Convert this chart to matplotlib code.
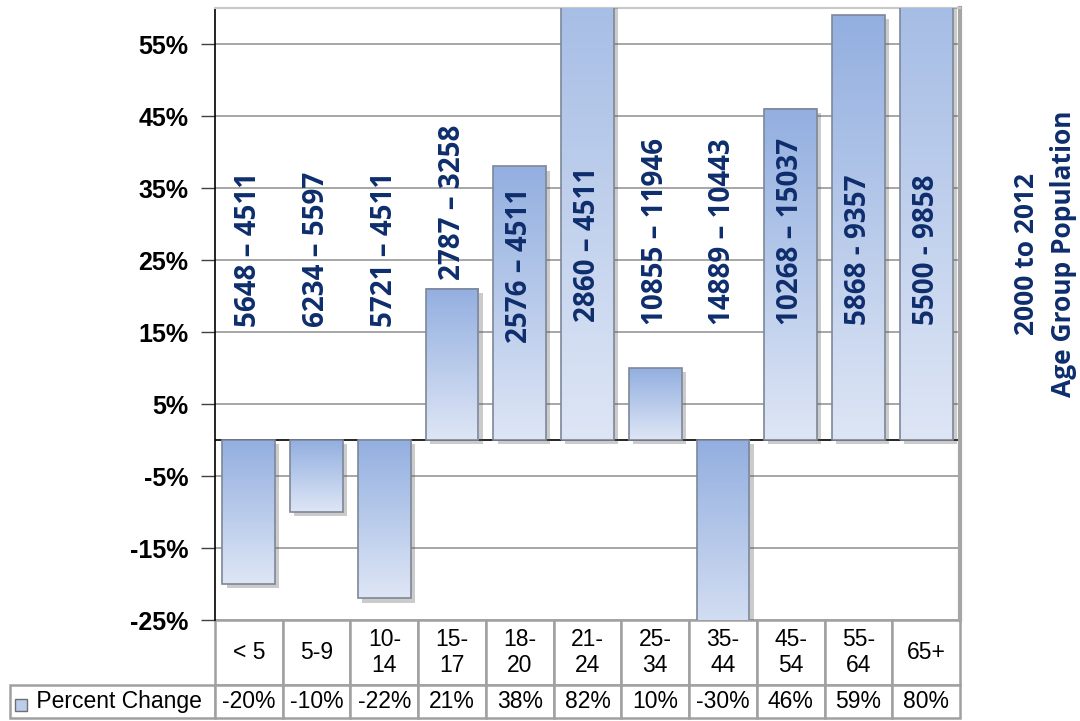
import matplotlib.pyplot as plt
import matplotlib.patheffects as pe
from matplotlib.colors import LinearSegmentedColormap
from matplotlib.patches import Rectangle
from matplotlib.table import Table
import numpy as np

# data
age_groups = ["< 5", "5-9", "10-\n14", "15-\n17", "18-\n20", "21-\n24",
              "25-\n34", "35-\n44", "45-\n54", "55-\n64", "65+"]
pct_change = [-20, -10, -22, 21, 38, 82, 10, -30, 46, 59, 80]
pop_ranges = ["5648 \u2013 4511", "6234 \u2013 5597", "5721 \u2013 4511",
              "2787 \u2013 3258", "2576 \u2013 4511", "2860 \u2013 4511",
              "10855 \u2013 11946", "14889 \u2013 10443", "10268 \u2013 15037",
              "5868 - 9357", "5500 - 9858"]
label_base = [15.7, 15.7, 15.7, 22.2, 13.5, 16.4, 16.0, 16.0, 16.0, 16.0, 16.0]
y_ticks = [-25, -15, -5, 5, 15, 25, 35, 45, 55]
series_name = "Percent Change"

navy = "#0E2D6C"
grid_gray = "#A6A6A6"
bar_cmap = LinearSegmentedColormap.from_list("bar", ["#93AFE0", "#DEE6F5"])

fig = plt.figure(figsize=(10.8, 7.21), dpi=100)
ax = fig.add_axes([215 / 1080, 101 / 721, 745 / 1080, 612 / 721])

x = np.arange(len(age_groups))

# white base bars carry the drop shadow
bars = ax.bar(x, pct_change, width=0.78, color="white", linewidth=0, zorder=3,
              path_effects=[pe.SimplePatchShadow(offset=(3, -3), shadow_rgbFace="#555555",
                                                 alpha=0.3), pe.Normal()])

# vertical gradient fill clipped to each bar
grad = np.linspace(0, 1, 256).reshape(-1, 1)
for bar in bars:
    x0 = bar.get_x()
    x1 = x0 + bar.get_width()
    y0 = min(bar.get_y(), bar.get_y() + bar.get_height())
    y1 = max(bar.get_y(), bar.get_y() + bar.get_height())
    im = ax.imshow(grad, extent=[x0, x1, y0, y1], origin="upper", aspect="auto",
                   cmap=bar_cmap, zorder=3.1)
    im.set_clip_path(bar)
    im.set_clip_box(ax.bbox)

# outlines on top
ax.bar(x, pct_change, width=0.78, facecolor="none", edgecolor="#7D8798",
       linewidth=1.2, zorder=3.2)

for xi, txt, yb in zip(x, pop_ranges, label_base):
    ax.text(xi, yb, txt, rotation=90, ha="center", va="bottom", fontsize=20,
            fontweight="bold", color=navy, family="Open Sans", zorder=5)

ax.axhline(0, color="black", lw=1.2, zorder=2.5)

ax.set_xlim(-0.5, len(age_groups) - 0.5)
ax.set_ylim(-25, 60)
ax.set_xticks([])
ax.set_yticks(y_ticks)
ax.set_yticklabels([f"{v}%" for v in y_ticks], fontsize=18, fontweight="bold",
                   family="Liberation Sans")
ax.tick_params(axis="y", length=10, width=1, color="#404040", pad=9)
ax.yaxis.grid(True, color=grid_gray, lw=1.4)
ax.set_axisbelow(True)

ax.spines["left"].set_color("black")
ax.spines["left"].set_linewidth(1.2)
ax.spines["top"].set_color("#C8C8C8")
ax.spines["top"].set_linewidth(1.5)
ax.spines["right"].set_color("#A6A6A6")
ax.spines["right"].set_linewidth(3)
ax.spines["bottom"].set_visible(False)

# data table under the plot: column 0 holds the row label
label_w = 205
col_w = 745 / len(age_groups)
tab = Table(ax, bbox=[-label_w / 745, -98 / 612, (label_w + 745) / 745, 98 / 612])
corner = tab.add_cell(0, 0, label_w, 65, text="")
corner.visible_edges = "open"
tab.add_cell(1, 0, label_w, 33, text=" " + series_name, loc="left")
for j, (grp, v) in enumerate(zip(age_groups, pct_change), start=1):
    tab.add_cell(0, j, col_w, 65, text=grp, loc="center")
    tab.add_cell(1, j, col_w, 33, text=f"{v}%", loc="center")
tab.auto_set_font_size(False)
tab.set_fontsize(16.5)
for cell in tab.get_celld().values():
    cell.set_edgecolor("#A0A0A0")
    cell.set_linewidth(1.8)
    cell.get_text().set_fontfamily("Liberation Sans")
ax.add_table(tab)

# legend key inside the row-label cell
ax.add_patch(Rectangle((-200 / 745, -91 / 612), 12 / 745, 12 / 612,
                       transform=ax.transAxes, clip_on=False,
                       facecolor="#BCCCEB", edgecolor="#6F6F6F", lw=1, zorder=6))

fig.text(1045 / 1080, 1 - 254 / 721, "2000 to 2012\nAge Group Population",
         rotation=90, ha="center", va="center", multialignment="center",
         fontsize=19, fontweight="bold", color=navy, family="Open Sans",
         linespacing=1.5)

fig.savefig("out.png", dpi=100)
